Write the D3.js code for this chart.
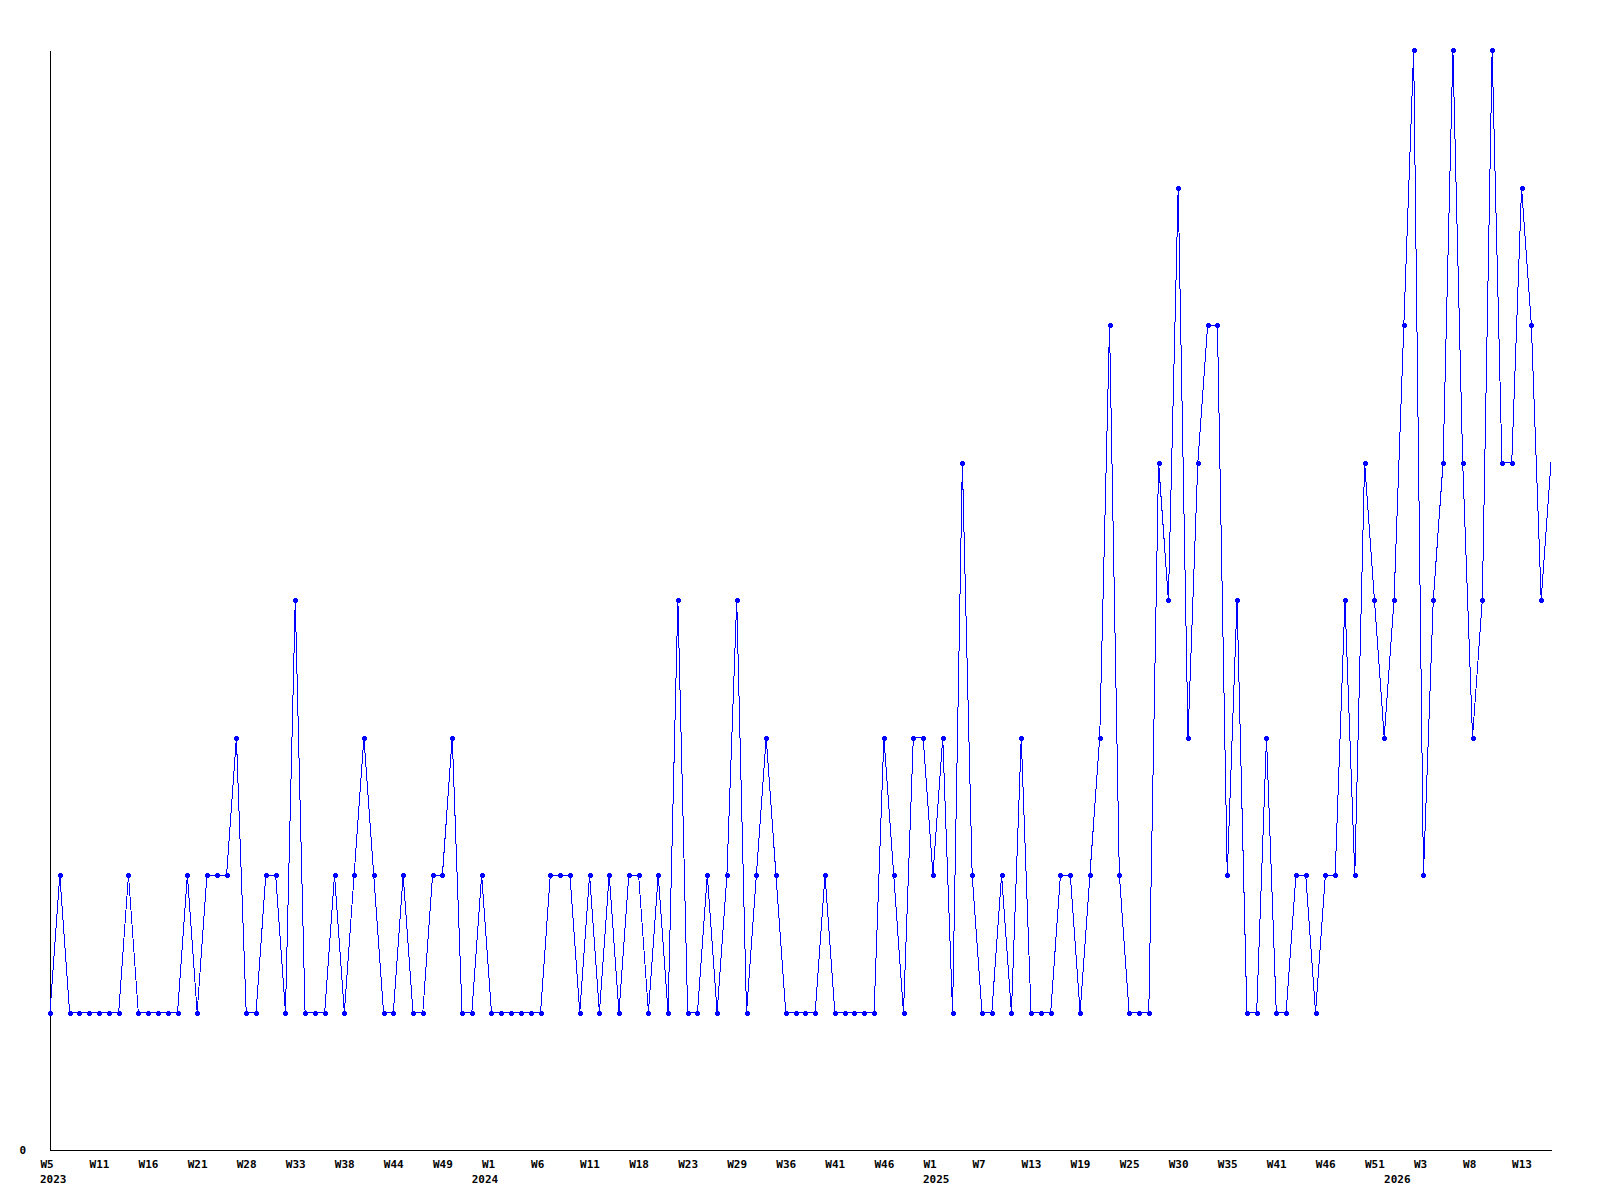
<!DOCTYPE html>
<head>
    <meta charset="utf-8">
    <title>Weekly count</title>
    <script src="https://d3js.org/d3.v7.min.js"></script>
    <style>
        body { margin: 0; background: #fff; }
        .chart text { font-family: "DejaVu Sans Mono", monospace; font-weight: bold; font-size: 11px; fill: #000; }
    </style>
</head>
<body>
    <svg class="chart" width="1600" height="1200"></svg>
    <script>
        // one value per week that has data, oldest first
        var counts = [
            1,2,1,1,1,1,1,1,2,1,
            1,1,1,1,2,1,2,2,2,3,
            1,1,2,2,1,4,1,1,1,2,
            1,2,3,2,1,1,2,1,1,2,
            2,3,1,1,2,1,1,1,1,1,
            1,2,2,2,1,2,1,2,1,2,
            2,1,2,1,4,1,1,2,1,2,
            4,1,2,3,2,1,1,1,1,2,
            1,1,1,1,1,3,2,1,3,3,
            2,3,1,5,2,1,1,2,1,3,
            1,1,1,2,2,1,2,3,6,2,
            1,1,1,5,4,7,3,5,6,6,
            2,4,1,1,3,1,1,2,2,1,
            2,2,4,2,5,4,3,4,6,8,
            2,4,5,8,5,3,4,8,5,5,
            7,6,4,5
        ];

        // week labels, shown on every 5th point
        var weekTicks = [0,5,10,15,20,25,30,35,40,45,50,55,60,65,70,75,80,85,90,95,100,105,110,115,120,125,130,135,140,145,150];
        var weekLabels = ["W5","W11","W16","W21","W28","W33","W38","W44","W49","W1","W6","W11","W18","W23","W29","W36","W41","W46","W1","W7","W13","W19","W25","W30","W35","W41","W46","W51","W3","W8","W13"];

        // year labels and the point where each year starts
        var years = ["2023","2024","2025","2026"];
        var yearStart = [0,44,90,137];

        var yTicks = [0];

        var plotLeft = 50, plotRight = 1551, plotTop = 50, plotBottom = 1150;

        var x = d3.scaleLinear().domain([0, counts.length - 1]).range([plotLeft, plotRight]);
        var y = d3.scaleLinear().domain([0, 8]).range([plotBottom, plotTop]);

        var svg = d3.select("svg");

        // axes
        var yAxis = svg.append("g")
            .attr("transform", "translate(" + plotLeft + ",0)")
            .call(d3.axisLeft(y).tickValues(yTicks).tickSize(0).tickSizeOuter(0).tickPadding(24).tickFormat(d3.format("d")));
        yAxis.select(".domain").attr("stroke", "#000").attr("shape-rendering", "crispEdges");

        var xAxis = svg.append("g")
            .attr("transform", "translate(0," + plotBottom + ")")
            .call(d3.axisBottom(x).tickValues(weekTicks).tickSize(0).tickSizeOuter(0).tickPadding(10)
                .tickFormat(function(d, i){ return weekLabels[i]; }));
        xAxis.select(".domain").attr("stroke", "#000").attr("shape-rendering", "crispEdges");
        xAxis.selectAll(".tick text").attr("text-anchor", "start").attr("dx", -10);

        svg.append("g").selectAll("text").data(years).enter().append("text")
            .attr("x", function(d, i){ return x(yearStart[i]) - 10; })
            .attr("y", plotBottom + 25)
            .attr("dy", "0.71em")
            .text(function(d){ return d; });

        // the line
        var line = d3.line()
            .x(function(d, i){ return x(i); })
            .y(function(d){ return y(d); });

        svg.append("path")
            .datum(counts)
            .attr("fill", "none")
            .attr("stroke", "#0000ff")
            .attr("stroke-width", 1)
            .attr("shape-rendering", "crispEdges")
            .attr("d", line);

        // small plus markers (the last point has none)
        var marks = svg.append("g").attr("fill", "#0000ff").attr("shape-rendering", "crispEdges")
            .selectAll("g").data(counts.slice(0, -1)).enter().append("g")
            .attr("transform", function(d, i){ return "translate(" + Math.round(x(i)) + "," + Math.round(y(d)) + ")"; });
        marks.append("rect").attr("x", -2.5).attr("y", -1.5).attr("width", 5).attr("height", 3);
        marks.append("rect").attr("x", -1.5).attr("y", -2.5).attr("width", 3).attr("height", 5);
    </script>
</body>
